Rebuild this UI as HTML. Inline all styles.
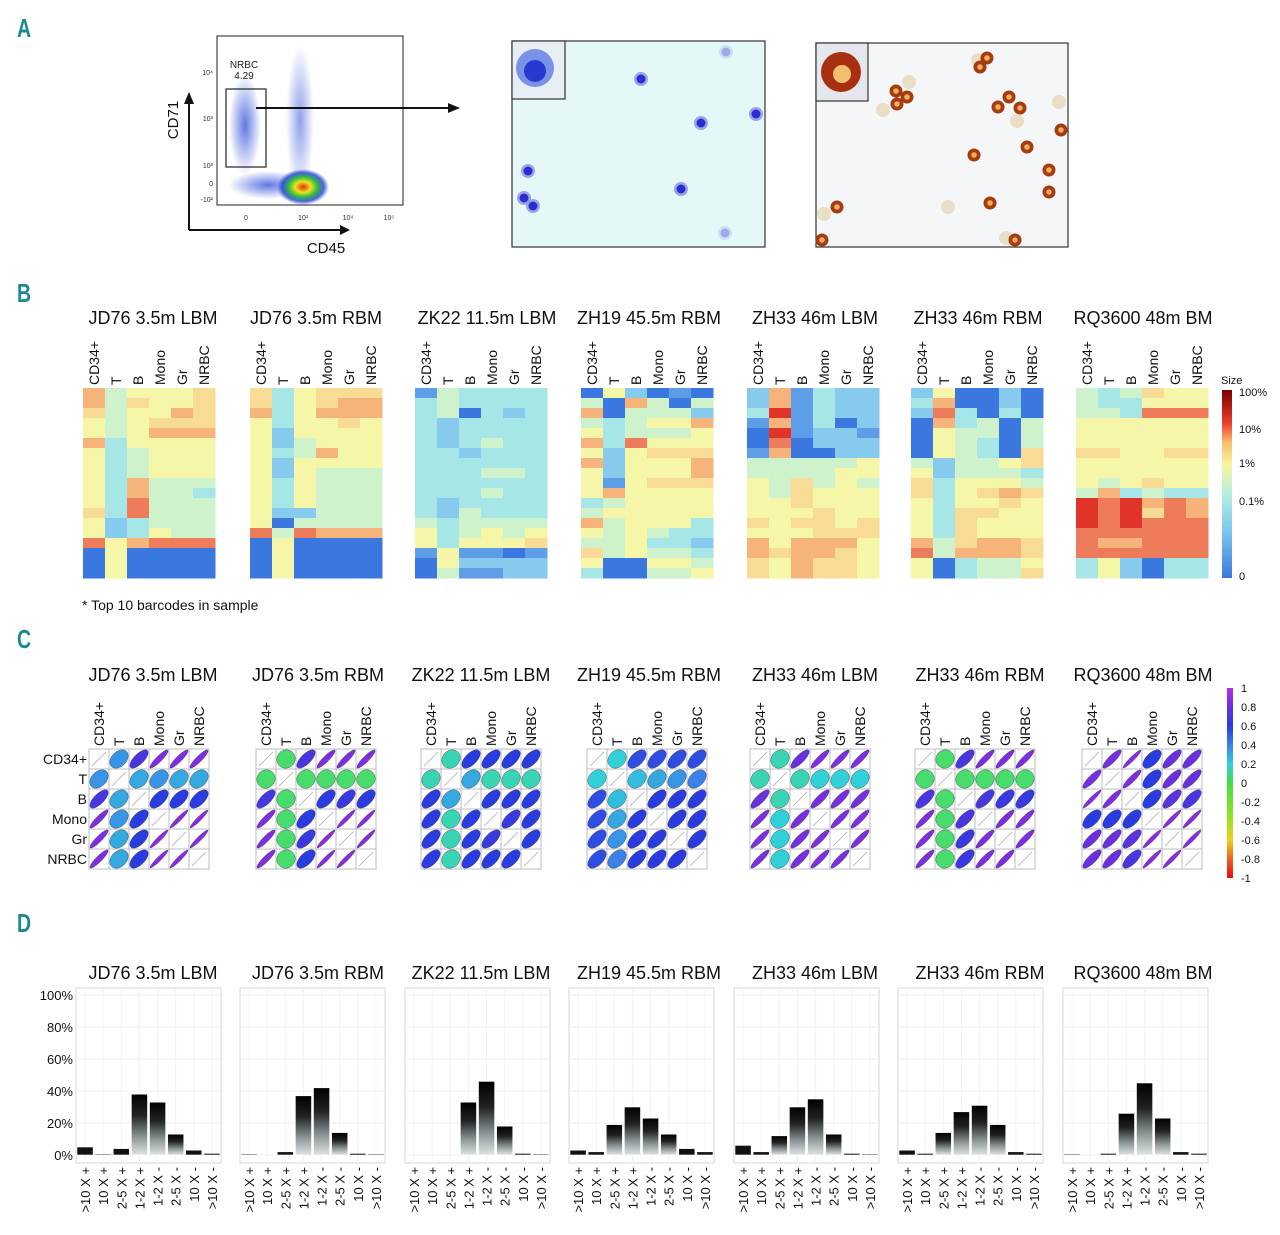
<!DOCTYPE html>
<html><head><meta charset="utf-8"><style>
html,body{margin:0;padding:0;background:#fff;}
svg{display:block;font-family:"Liberation Sans",sans-serif;}
</style></head><body>
<svg id="fig" width="1280" height="1235" viewBox="0 0 1280 1235" xmlns="http://www.w3.org/2000/svg">
<defs>
<linearGradient id="barGrad" x1="0" y1="0" x2="0" y2="1"><stop offset="0" stop-color="#000"/><stop offset="0.35" stop-color="#222"/><stop offset="0.7" stop-color="#8a9496"/><stop offset="1" stop-color="#dfe4e4"/></linearGradient>
<linearGradient id="sizeBar" x1="0" y1="1" x2="0" y2="0"><stop offset="0" stop-color="#3a78e0"/><stop offset="0.25" stop-color="#7ac8ee"/><stop offset="0.45" stop-color="#b8eee0"/><stop offset="0.6" stop-color="#f6f6a0"/><stop offset="0.72" stop-color="#f8c070"/><stop offset="0.82" stop-color="#ee4030"/><stop offset="1" stop-color="#7a0000"/></linearGradient>
<linearGradient id="corBar" x1="0" y1="1" x2="0" y2="0"><stop offset="0" stop-color="#e01010"/><stop offset="0.1" stop-color="#f06020"/><stop offset="0.2" stop-color="#f0d020"/><stop offset="0.3" stop-color="#a0e020"/><stop offset="0.5" stop-color="#40e040"/><stop offset="0.6" stop-color="#30d0d8"/><stop offset="0.7" stop-color="#3a80e8"/><stop offset="0.8" stop-color="#2a3ce0"/><stop offset="0.9" stop-color="#6a30e0"/><stop offset="1" stop-color="#b030e0"/></linearGradient>
<radialGradient id="dens" cx="0.5" cy="0.5" r="0.5"><stop offset="0" stop-color="#e03010"/><stop offset="0.3" stop-color="#f0e020"/><stop offset="0.55" stop-color="#30c040"/><stop offset="0.8" stop-color="#2040d0" stop-opacity="0.8"/><stop offset="1" stop-color="#2040d0" stop-opacity="0"/></radialGradient>
<radialGradient id="blueCloud" cx="0.5" cy="0.5" r="0.5"><stop offset="0" stop-color="#2a4ad8" stop-opacity="0.75"/><stop offset="1" stop-color="#2a4ad8" stop-opacity="0"/></radialGradient>
</defs>
<g id="root"></g>
</svg>
<script>
// ---------- DATA ----------
const titles = ["JD76 3.5m LBM","JD76 3.5m RBM","ZK22 11.5m LBM","ZH19 45.5m RBM","ZH33 46m LBM","ZH33 46m RBM","RQ3600 48m BM"];
const cellTypes = ["CD34+","T","B","Mono","Gr","NRBC"];
const sizeTicks = ["100%","10%","1%","0.1%","0"];
const corTicks = ["1","0.8","0.6","0.4","0.2","0","-0.2","-0.4","-0.6","-0.8","-1"];
const foldCats = [">10 X +","10 X +","2-5 X +","1-2 X +","1-2 X -","2-5 X -","10 X -",">10 X -"];
const pctTicks = [0,20,40,60,80,100];
const heat1 = ["745556","746556","645576","545666","545777","735555","534555","534555","534555","537444","537443","538444","638444","523444","523544","857888","050000","050000","050000"];
const heat2 = ["635666","635677","735777","535565","525555","524555","534755","525555","525444","535444","535444","535444","522444","504444","848777","050000","050000","050000","050000"];
const heat3 = ["143333","343333","340323","323333","323333","323433","332333","333333","333443","333333","333433","323333","324333","434444","534545","535556","151101","052222","041122"];
const heat4 = ["052010","407404","704442","434557","534445","738555","525666","725557","525557","515666","575555","345555","455555","745553","545433","445332","645443","500554","300445"];
const heat5 = ["271322","271322","391322","171302","091221","080222","170022","444445","444455","546454","546555","556555","555655","656656","555666","757775","767765","657665","657665"];
const heat6 = ["250020","370020","283030","073404","054404","054304","054306","424456","524443","635554","635676","535565","536655","536555","536555","746776","847776","503445","503446"];
const heat7 = ["434655","433555","443888","555555","555555","555555","665566","555555","555555","545655","473433","989787","989687","989888","888888","877888","888888","352033","352033"];
const heats = [heat1,heat2,heat3,heat4,heat5,heat6,heat7];
const cor1 = [0.35,0.7,0.9,0.9,0.9, 0.3,0.35,0.3,0.3, 0.6,0.6,0.6, 0.95,0.95,0.95];
const cor2 = [0.05,0.7,0.9,0.9,0.9, 0.05,0.05,0.05,0.05, 0.6,0.65,0.6, 0.95,0.95,0.95];
const cor3 = [0.15,0.6,0.6,0.6,0.6, 0.3,0.15,0.15,0.15, 0.6,0.6,0.6, 0.65,0.6,0.6];
const cor4 = [0.2,0.55,0.55,0.55,0.55, 0.25,0.3,0.35,0.4, 0.6,0.6,0.6, 0.6,0.6,0.6];
const cor5 = [0.15,0.8,0.9,0.9,0.9, 0.15,0.2,0.2,0.2, 0.85,0.85,0.85, 0.9,0.9,0.9];
const cor6 = [0.05,0.7,0.9,0.9,0.9, 0.05,0.05,0.05,0.05, 0.7,0.65,0.65, 0.9,0.9,0.9];
const cor7 = [0.85,0.95,0.6,0.8,0.8, 0.9,0.6,0.8,0.8, 0.6,0.75,0.7, 0.95,0.95,0.95];
const cors = [cor1,cor2,cor3,cor4,cor5,cor6,cor7];
const fold1 = [5,0.5,4,38,33,13,3,1];
const fold2 = [0.5,0,2,37,42,14,1,0.5];
const fold3 = [0,0,0,33,46,18,1,0.5];
const fold4 = [3,2,19,30,23,13,4,2];
const fold5 = [6,2,12,30,35,13,1,0.5];
const fold6 = [3,1,14,27,31,19,2,1];
const fold7 = [0.5,0,1,26,45,23,2,1];
const folds = [fold1,fold2,fold3,fold4,fold5,fold6,fold7];

// ---------- HELPERS ----------
const NS="http://www.w3.org/2000/svg";
const root=document.getElementById('root');
function mk(tag,attrs,parent,txt){const e=document.createElementNS(NS,tag);for(const k in attrs)e.setAttribute(k,attrs[k]);if(txt!==undefined)e.textContent=txt;(parent||root).appendChild(e);return e;}
const TEAL="#1b8a8e";
function panelLetter(ch,y){const t=mk('text',{x:17,y:y,'font-size':26,'font-weight':'bold',fill:TEAL,transform:`translate(17 ${y}) scale(0.75 1) translate(-17 -${y})`},root,ch);

}

// ---------- PANEL A ----------
panelLetter('A',37);
const gA=mk('g',{});


mk('rect',{x:217,y:36,width:186,height:169,fill:'#fff',stroke:'#222','stroke-width':1},gA);
mk('ellipse',{cx:245,cy:125,rx:16,ry:50,fill:'url(#blueCloud)'},gA);
mk('ellipse',{cx:300,cy:120,rx:14,ry:75,fill:'url(#blueCloud)',opacity:0.7},gA);
mk('ellipse',{cx:268,cy:185,rx:40,ry:14,fill:'url(#blueCloud)'},gA);
mk('ellipse',{cx:303,cy:187,rx:26,ry:18,fill:'url(#dens)'},gA);
mk('rect',{x:226,y:89,width:40,height:78,fill:'none',stroke:'#222','stroke-width':1.2},gA);
mk('text',{x:244,y:68,'font-size':10,'text-anchor':'middle',fill:'#222'},gA,'NRBC');
mk('text',{x:244,y:79,'font-size':10,'text-anchor':'middle',fill:'#222'},gA,'4.29');
[["10⁴",75],["10³",121],["10²",168],["0",186],["-10²",202]].forEach(p=>mk('text',{x:213,y:p[1],'font-size':7,'text-anchor':'end',fill:'#333'},gA,p[0]));
[["0",246],["10³",303],["10⁴",348],["10⁵",389]].forEach(p=>mk('text',{x:p[1],y:220,'font-size':7,'text-anchor':'middle',fill:'#333'},gA,p[0]));
mk('line',{x1:189,y1:230,x2:189,y2:104,stroke:'#111','stroke-width':2},gA);
mk('polygon',{points:'184,104 194,104 189,92',fill:'#111'},gA);
mk('line',{x1:189,y1:230,x2:340,y2:230,stroke:'#111','stroke-width':2},gA);
mk('polygon',{points:'340,225 340,235 350,230',fill:'#111'},gA);
mk('text',{x:178,y:120,'font-size':15,'text-anchor':'middle',fill:'#111',transform:'rotate(-90 178 120)'},gA,'CD71');
mk('text',{x:326,y:253,'font-size':15,'text-anchor':'middle',fill:'#111'},gA,'CD45');
const arr=mk('g',{});


mk('line',{x1:256,y1:108,x2:450,y2:108,stroke:'#111','stroke-width':2},arr);
mk('polygon',{points:'448,103 448,113 460,108',fill:'#111'},arr);
const m1=mk('g',{});


mk('rect',{x:512,y:41,width:253,height:206,fill:'#e6f7f8',stroke:'#333','stroke-width':1.2},m1);
[[641,79,1],[701,123,1],[756,114,1],[528,171,1],[524,198,1],[533,206,1],[681,189,1],[725,233,0.3],[726,52,0.3]].forEach(c=>{
 mk('circle',{cx:c[0],cy:c[1],r:7,fill:'#8a8ee6',opacity:c[2]*0.8},m1);
 mk('circle',{cx:c[0],cy:c[1],r:4.5,fill:'#2a2ed0',opacity:c[2]},m1);});
mk('rect',{x:512,y:41,width:53,height:58,fill:'#e8eef6',stroke:'#333','stroke-width':1.2},m1);
mk('circle',{cx:535,cy:68,r:19,fill:'#7a92e6'},m1);
mk('circle',{cx:535,cy:71,r:11,fill:'#2838d0'},m1);
const m2=mk('g',{});


mk('rect',{x:816,y:43,width:252,height:204,fill:'#f4f6f8',stroke:'#333','stroke-width':1.2},m2);
const brown=[[987,58],[980,67],[896,91],[897,104],[907,97],[998,107],[1009,97],[1020,108],[1061,130],[1027,147],[974,155],[1049,170],[1049,192],[990,203],[837,207],[822,240],[1015,240]];
const pale=[[909,82],[883,110],[1017,121],[1059,102],[824,214],[1006,238],[948,207],[978,60]];
pale.forEach(c=>mk('circle',{cx:c[0],cy:c[1],r:7,fill:'#e8dcc0',opacity:0.9},m2));
brown.forEach(c=>{mk('circle',{cx:c[0],cy:c[1],r:6.5,fill:'#a83a10'},m2);mk('circle',{cx:c[0],cy:c[1],r:2.8,fill:'#f0b060'},m2);});
mk('rect',{x:816,y:43,width:52,height:58,fill:'#e4e8ec',stroke:'#333','stroke-width':1.2},m2);
mk('circle',{cx:841,cy:72,r:20,fill:'#a83010'},m2);
mk('circle',{cx:842,cy:74,r:9,fill:'#f0c070'},m2);

// ---------- PANEL B ----------
panelLetter('B',302);
const levelColors=["#3a78e0","#5e9ee8","#86cbee","#a6e6e6","#cdf2cc","#f6f6a8","#f8dc96","#f6b47a","#ee7c5a","#e03428"];
const bX=[83,250,415,581,747,911,1076];
const bW=132, bTop=388, bRowH=10;
const bCenters=[153,316,487,649,815,978,1143];
for(let p=0;p<7;p++){
 const g=mk('g',{});
 
 
 const tt=mk('text',{x:bCenters[p],y:324,'font-size':18,'text-anchor':'middle',fill:'#111'},g,titles[p]);
 
 
 const cw=bW/6;
 cellTypes.forEach((c,i)=>{const x=bX[p]+cw*i+cw/2+5;
  const lb=mk('text',{x:x,y:385,'font-size':14,fill:'#111',transform:`rotate(-90 ${x} 385)`},g,c);
  
  });
 heats[p].forEach((row,r)=>{for(let i=0;i<6;i++){const lv=+row[i];
  const cell=mk('rect',{x:bX[p]+cw*i,y:bTop+r*bRowH,width:cw+0.5,height:bRowH+0.5,fill:levelColors[lv]},g);
  
  }});
}
const sb=mk('g',{});


mk('rect',{x:1222,y:390,width:10,height:188,fill:'url(#sizeBar)'},sb);
mk('text',{x:1221,y:384,'font-size':11,fill:'#111'},sb,'Size');
const sbY=[396,433,467,505,580];
sizeTicks.forEach((t,i)=>mk('text',{x:1239,y:sbY[i],'font-size':11,fill:'#111'},sb,t));
const fn=mk('text',{x:82,y:610,'font-size':14,fill:'#111'},root,'* Top 10 barcodes in sample');



// ---------- PANEL C ----------
panelLetter('C',648);
const cX=[89,256,421,587,750,915,1082];
const cTop=749, cs=20;
const corStops=[[-1,[224,16,16]],[-0.8,[240,96,32]],[-0.6,[240,208,32]],[-0.4,[160,224,32]],[0,[80,224,72]],[0.2,[48,208,216]],[0.4,[58,128,232]],[0.6,[42,60,224]],[0.8,[106,48,224]],[1,[150,40,224]]];
function corColor(v){for(let i=0;i<corStops.length-1;i++){const a=corStops[i],b=corStops[i+1];if(v<=b[0]){const t=(v-a[0])/(b[0]-a[0]);const c=a[1].map((x,k)=>Math.round(x+(b[1][k]-x)*t));return `rgb(${c})`;}}return 'rgb(150,40,224)';}
function corVal(arr,i,j){if(i===j)return 1;const a=Math.min(i,j),b=Math.max(i,j);let idx=0;for(let x=0;x<a;x++)idx+=5-x;idx+=b-a-1;return arr[idx];}
for(let p=0;p<7;p++){
 const g=mk('g',{});
 
 
 const ct=[153,318,481,649,815,980,1143][p];
 mk('text',{x:ct,y:681,'font-size':18,'text-anchor':'middle',fill:'#111'},g,titles[p]);
 cellTypes.forEach((c,i)=>{const x=cX[p]+cs*i+cs/2+5;
  const lb=mk('text',{x:x,y:746,'font-size':14,fill:'#111',transform:`rotate(-90 ${x} 746)`},g,c);
  
  });
 for(let i=0;i<6;i++)for(let j=0;j<6;j++){
  const x=cX[p]+j*cs,y=cTop+i*cs;
  mk('rect',{x:x,y:y,width:cs,height:cs,fill:'#fff',stroke:'#b8bcc4','stroke-width':1},g);
  if(i===j){mk('line',{x1:x+3,y1:y+cs-3,x2:x+cs-3,y2:y+3,stroke:'#aaa','stroke-width':0.8},g);continue;}
  const v=corVal(cors[p],i,j);
  const a=Math.min(12.5,9.2*Math.sqrt(1+v)),b=Math.max(1.6,9.2*Math.sqrt(1-v));
  const el=mk('ellipse',{cx:x+cs/2,cy:y+cs/2,rx:a,ry:b,fill:corColor(v),stroke:'#444','stroke-width':0.4,transform:`rotate(-45 ${x+cs/2} ${y+cs/2})`},g);
  
  
 }
}
cellTypes.forEach((c,i)=>{const t=mk('text',{x:87,y:cTop+i*cs+15,'font-size':14,'text-anchor':'end',fill:'#111'},root,c);
 
 });
const cb=mk('g',{});


mk('rect',{x:1227,y:688,width:6,height:190,fill:'url(#corBar)'},cb);
corTicks.forEach((t,i)=>mk('text',{x:1241,y:692+i*19,'font-size':11,fill:'#111'},cb,t));

// ---------- PANEL D ----------
panelLetter('D',932);
const dX=[76,240,405,569,734,898,1063];
const dW=145, dTop=988, dBot=1163;
const y0=1155, pxPerPct=1.6;
function yScale(v){return y0-v*pxPerPct;}
const dCenters=[153,318,481,649,815,980,1143];
for(let p=0;p<7;p++){
 const g=mk('g',{});
 
 
 mk('text',{x:dCenters[p],y:979,'font-size':18,'text-anchor':'middle',fill:'#111'},g,titles[p]);
 mk('rect',{x:dX[p],y:dTop,width:dW,height:dBot-dTop,fill:'#fff',stroke:'#d4d8d8','stroke-width':1},g);
 const step=dW/8;
 pctTicks.forEach(t=>{mk('line',{x1:dX[p],x2:dX[p]+dW,y1:yScale(t),y2:yScale(t),stroke:'#eef0f0','stroke-width':1},g);});
 foldCats.forEach((c,i)=>{const cx=dX[p]+step*i+step/2;
  mk('line',{x1:cx,x2:cx,y1:dTop,y2:dBot,stroke:'#f2f4f4','stroke-width':1},g);
  const v=folds[p][i];
  if(v>0){const h=v*pxPerPct;
   const bar=mk('rect',{x:cx-step/2+1,y:yScale(v),width:step-2,height:Math.max(h,1),fill:v>10?'url(#barGrad)':'#111',stroke:'#fff','stroke-width':0.6},g);
   
   }
  const lx=cx+5;
  const lb=mk('text',{x:lx,y:1167,'font-size':13,'text-anchor':'end',fill:'#111',transform:`rotate(-90 ${lx} 1167)`},g,c);
  
  });
}
pctTicks.forEach(t=>{const tx=mk('text',{x:73,y:yScale(t)+5,'font-size':13,'text-anchor':'end',fill:'#111'},root,t+'%');
 
 });
</script>
</body></html>
